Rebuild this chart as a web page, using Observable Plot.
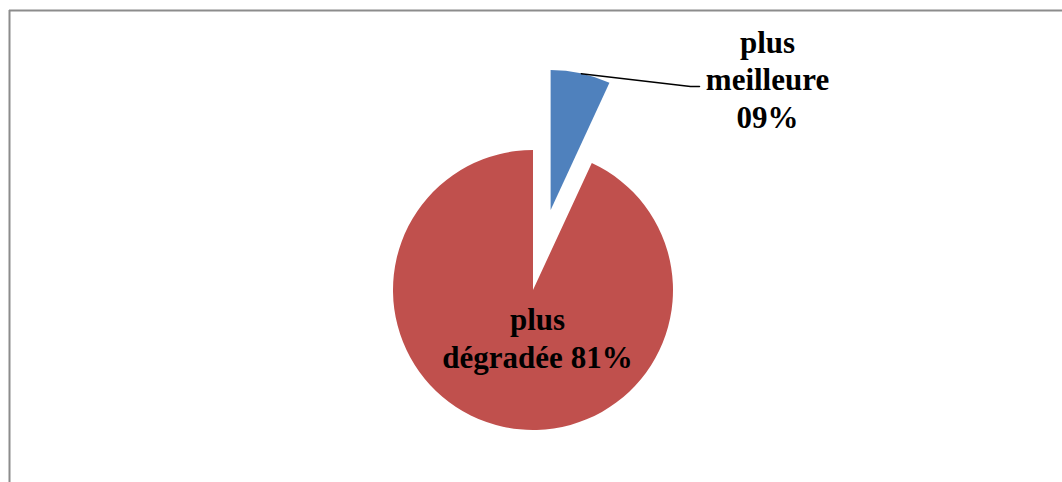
<!DOCTYPE html>
<html>
<head>
<meta charset="utf-8">
<script src="https://cdn.jsdelivr.net/npm/d3@7"></script>
<script src="https://cdn.jsdelivr.net/npm/@observablehq/plot@0.6"></script>
<style>
  html, body { margin: 0; padding: 0; background: #fff; overflow: hidden; }
  #chart svg { display: block; }
</style>
</head>
<body>
<div id="chart"></div>
<script>
// ---- data ----
const categories = ["plus meilleure", "plus dégradée"];
const shares = [6.9, 93.1];            // slice shares as drawn (angle)
const pctLabels = ["09%", "81%"];      // labels as printed on the chart
const colors = ["#4F81BD", "#C0504D"];

// ---- layout ----
const W = 1062, H = 482;
const cx = 533, cy = 290, R = 140;
const explode = [82, 0];
const labelPos = [[767, 78], [537, 336.5]];
const fontSize = 31;

const rows = categories.map((c, i) => ({
  name: c, share: shares[i], pct: pctLabels[i], color: colors[i],
  explode: explode[i], lx: labelPos[i][0], ly: labelPos[i][1]
}));

const pie = d3.pie().sort(null).value(d => d.share).startAngle(0).endAngle(2 * Math.PI);
const arcs = pie(rows).map(a => {
  const mid = (a.startAngle + a.endAngle) / 2;
  const ox = Math.sin(mid) * a.data.explode, oy = -Math.cos(mid) * a.data.explode;
  return {...a, mid, ox, oy};
});

// leader line for the exploded slice: from outer arc midpoint to label
const lead = arcs.filter(a => a.data.explode > 0).flatMap(a => {
  const sx = cx + a.ox + Math.sin(a.mid) * R;
  const sy = cy + a.oy - Math.cos(a.mid) * R;
  const ex = a.data.lx - 77, ey = a.data.ly + 8;
  return [
    {k: a.data.name, x: sx, y: sy},
    {k: a.data.name, x: ex, y: ey},
    {k: a.data.name, x: ex + 9, y: ey}
  ];
});

const arcGen = d3.arc().innerRadius(0).outerRadius(R);

function pieMark(index, scales) {
  const g = d3.create("svg:g");
  g.selectAll("path").data(arcs).join("path")
    .attr("d", arcGen)
    .attr("fill", d => d.data.color)
    .attr("transform", d => `translate(${scales.x(cx + d.ox)},${scales.y(cy + d.oy)})`);
  return g.node();
}

const chart = Plot.plot({
  width: W, height: H,
  margin: 0,
  x: {domain: [0, W], range: [0, W], axis: null},
  y: {domain: [0, H], range: [0, H], axis: null},
  marks: [
    Plot.ruleY([10], {x1: 9, x2: W, stroke: "#8c8c8c", strokeWidth: 2}),
    Plot.ruleX([9], {y1: 10, y2: H, stroke: "#8c8c8c", strokeWidth: 2}),
    pieMark,
    Plot.line(lead, {x: "x", y: "y", z: "k", stroke: "#000", strokeWidth: 1.5}),
    Plot.text(rows, {
      x: "lx", y: "ly",
      text: d => d.explode > 0 ? d.name.replace(" ", "\n") + "\n" + d.pct : d.name.replace(" ", "\n") + " " + d.pct,
      fontSize: fontSize, fontWeight: "bold", fontFamily: "Liberation Serif, Times New Roman, serif",
      fill: "#000", lineHeight: 1.2, textAnchor: "middle", lineAnchor: "middle"
    })
  ]
});
document.getElementById("chart").appendChild(chart);
</script>
</body>
</html>
